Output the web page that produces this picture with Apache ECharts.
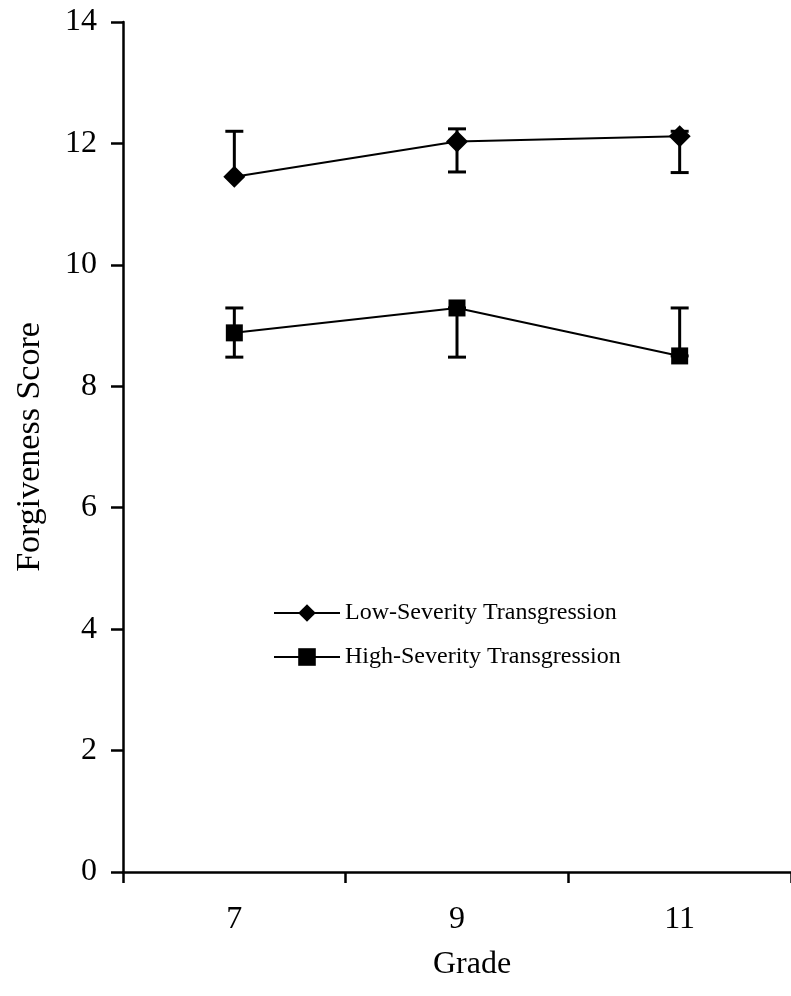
<!DOCTYPE html>
<html>
<head>
<meta charset="utf-8">
<script src="https://cdn.jsdelivr.net/npm/echarts@6/dist/echarts.min.js"></script>
<style>
html,body{margin:0;padding:0;background:#fff;}
#chart{width:791px;height:996px;}
</style>
</head>
<body>
<div id="chart"></div>
<script>
const grades = ['7', '9', '11'];
const lowMean = [11.45, 12.03, 12.12];
const lowUpper = [12.2, 12.24, 12.2];
const lowLower = [11.45, 11.53, 11.52];
const highMean = [8.88, 9.29, 8.5];
const highUpper = [9.29, 9.29, 9.29];
const highLower = [8.48, 8.48, 8.5];
const yTicks = [0, 2, 4, 6, 8, 10, 12, 14];

const FONT = '"Liberation Serif", "Times New Roman", serif';

function errData(upper, lower) {
  return grades.map((g, i) => [i, lower[i], upper[i]]);
}

function errRender(params, api) {
  const i = api.value(0);
  const lo = api.coord([i, api.value(1)]);
  const hi = api.coord([i, api.value(2)]);
  const cap = 9;
  const style = { stroke: '#000', lineWidth: 3 };
  const children = [];
  if (Math.abs(hi[1] - lo[1]) > 0.5) {
    children.push({ type: 'line', shape: { x1: lo[0], y1: lo[1], x2: hi[0], y2: hi[1] }, style });
  }
  children.push({ type: 'line', shape: { x1: hi[0] - cap, y1: hi[1], x2: hi[0] + cap, y2: hi[1] }, style });
  children.push({ type: 'line', shape: { x1: lo[0] - cap, y1: lo[1], x2: lo[0] + cap, y2: lo[1] }, style });
  return { type: 'group', children };
}

const chart = echarts.init(document.getElementById('chart'), null, { renderer: 'canvas' });
chart.setOption({
  animation: false,
  backgroundColor: '#fff',
  grid: { left: 123, right: 0, top: 22, bottom: 124, containLabel: false },
  xAxis: {
    type: 'category',
    data: grades,
    boundaryGap: true,
    axisLine: { show: true, lineStyle: { color: '#000', width: 2.5 } },
    axisTick: { show: true, length: 11, lineStyle: { color: '#000', width: 2.5 } },
    axisLabel: { color: '#000', fontFamily: FONT, fontSize: 32, margin: 32 },
    splitLine: { show: false }
  },
  yAxis: {
    type: 'value',
    min: yTicks[0],
    max: yTicks[yTicks.length - 1],
    interval: 2,
    axisLine: { show: true, lineStyle: { color: '#000', width: 2.5 } },
    axisTick: { show: true, length: 12, lineStyle: { color: '#000', width: 2.5 } },
    axisLabel: { color: '#000', fontFamily: FONT, fontSize: 32, margin: 26 },
    splitLine: { show: false }
  },
  legend: {
    orient: 'vertical',
    left: 268,
    top: 596,
    itemWidth: 66,
    itemHeight: 22,
    itemGap: 20,
    textStyle: { color: '#000', fontFamily: FONT, fontSize: 24 },
    data: ['Low-Severity Transgression', 'High-Severity Transgression']
  },
  graphic: [
    { type: 'text', x: 472, y: 965, style: { text: 'Grade', fill: '#000', font: '32px ' + FONT, textAlign: 'center', textVerticalAlign: 'middle' } },
    { type: 'text', rotation: Math.PI / 2, x: 30, y: 447, style: { text: 'Forgiveness Score', fill: '#000', font: '34px ' + FONT, textAlign: 'center', textVerticalAlign: 'middle' } }
  ],
  series: [
    {
      type: 'custom', name: 'lowErr', renderItem: errRender, data: errData(lowUpper, lowLower), z: 1, silent: true
    },
    {
      type: 'custom', name: 'highErr', renderItem: errRender, data: errData(highUpper, highLower), z: 1, silent: true
    },
    {
      name: 'Low-Severity Transgression', type: 'line', data: lowMean,
      symbol: 'diamond', symbolSize: 22, z: 3,
      lineStyle: { color: '#000', width: 2 }, itemStyle: { color: '#000' }
    },
    {
      name: 'High-Severity Transgression', type: 'line', data: highMean,
      symbol: 'rect', symbolSize: 17, z: 3,
      lineStyle: { color: '#000', width: 2 }, itemStyle: { color: '#000' }
    }
  ]
});
</script>
</body>
</html>
